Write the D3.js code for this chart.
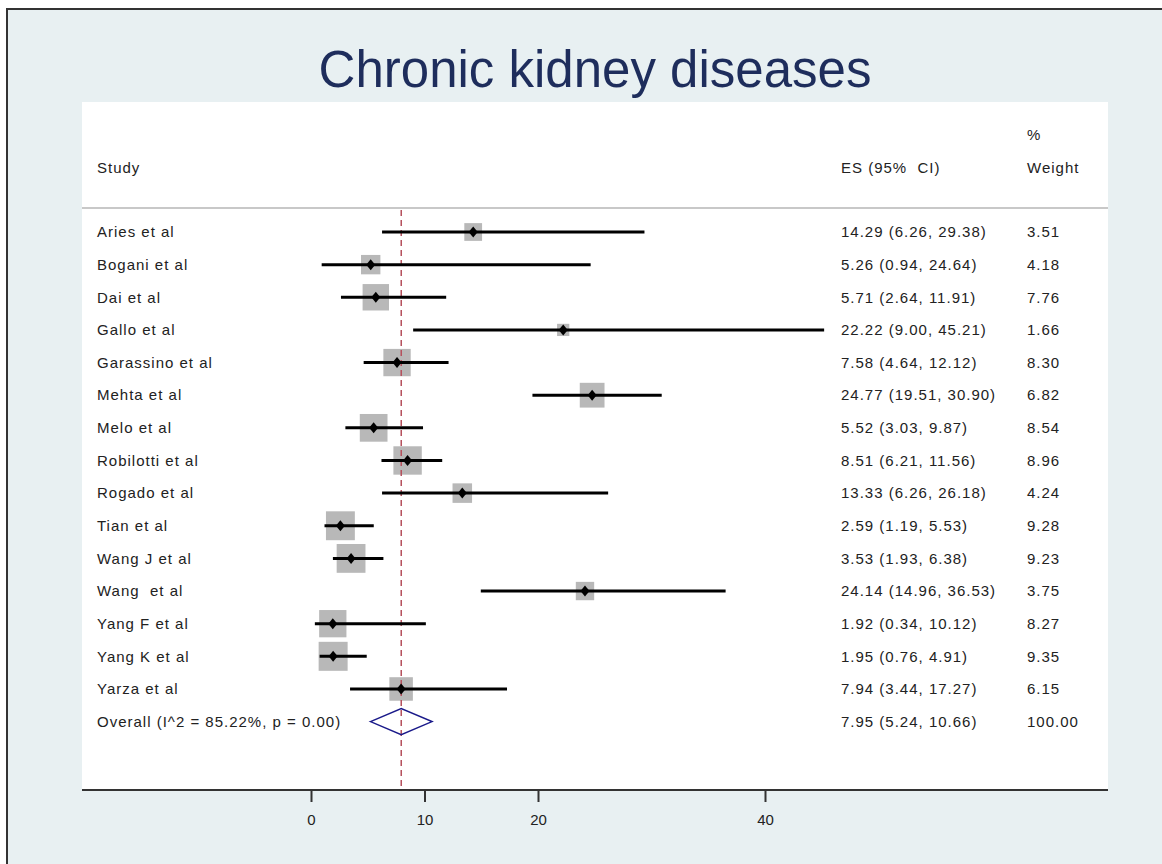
<!DOCTYPE html>
<html>
<head>
<meta charset="utf-8">
<script src="https://cdn.jsdelivr.net/npm/d3@7"></script>
<style>
  body { margin: 0; background: #fff; }
  text { font-family: "Liberation Sans", Arial, sans-serif; white-space: pre; }
</style>
</head>
<body>
<svg></svg>
<script>
// study data
var studies = ["Aries et al", "Bogani et al", "Dai et al", "Gallo et al", "Garassino et al",
  "Mehta et al", "Melo et al", "Robilotti et al", "Rogado et al", "Tian et al",
  "Wang J et al", "Wang  et al", "Yang F et al", "Yang K et al", "Yarza et al"];
var es = [14.29, 5.26, 5.71, 22.22, 7.58, 24.77, 5.52, 8.51, 13.33, 2.59, 3.53, 24.14, 1.92, 1.95, 7.94];
var lower = [6.26, 0.94, 2.64, 9.00, 4.64, 19.51, 3.03, 6.21, 6.26, 1.19, 1.93, 14.96, 0.34, 0.76, 3.44];
var upper = [29.38, 24.64, 11.91, 45.21, 12.12, 30.90, 9.87, 11.56, 26.18, 5.53, 6.38, 36.53, 10.12, 4.91, 17.27];
var weights = [3.51, 4.18, 7.76, 1.66, 8.30, 6.82, 8.54, 8.96, 4.24, 9.28, 9.23, 3.75, 8.27, 9.35, 6.15];

// pooled estimate
var overall = { label: "Overall (I^2 = 85.22%, p = 0.00)", es: 7.95, lower: 5.24, upper: 10.66, weight: 100.00 };

var xTicks = [0, 10, 20, 40];

var width = 1162, height = 864;
var plotLeft = 82, plotRight = 1108, plotTop = 102, axisY = 790;
var sepY = 208, firstRowY = 232, rowStep = 32.64;
var esColX = 841, wColX = 1027;

var svg = d3.select("svg")
    .attr("width", width)
    .attr("height", height);

// outer frame and background
svg.append("rect")
    .attr("x", 7).attr("y", 9)
    .attr("width", width + 20).attr("height", height + 20)
    .attr("fill", "#e8f0f2")
    .attr("stroke", "#333").attr("stroke-width", 2);

// white plot region
svg.append("rect")
    .attr("x", plotLeft).attr("y", plotTop)
    .attr("width", plotRight - plotLeft).attr("height", axisY - plotTop)
    .attr("fill", "#fff");

// title
svg.append("text")
    .attr("x", (plotLeft + plotRight) / 2).attr("y", 87)
    .attr("text-anchor", "middle")
    .attr("font-size", 51)
    .attr("fill", "#1e2d5c")
    .text("Chronic kidney diseases");

var x = d3.scaleLinear()
    .domain([0, 40])
    .range([311, 765]);

var y = d3.scaleLinear()
    .domain([0, 1])
    .range([firstRowY, firstRowY + rowStep]);

// square side grows with the square root of the weight
var size = d3.scaleSqrt()
    .domain([0, d3.max(weights)])
    .range([0, 29]);

var rows = studies.map(function(s, i) {
    return { label: s, es: es[i], lower: lower[i], upper: upper[i], weight: weights[i], i: i };
});

function txt(xp, yp, s) {
    return svg.append("text")
        .attr("x", xp).attr("y", yp)
        .attr("dy", "0.35em")
        .attr("font-size", 15)
        .attr("letter-spacing", 1)
        .attr("fill", "#222")
        .text(s);
}

// header
txt(97, 168, "Study");
txt(esColX, 168, "ES (95%  CI)");
txt(wColX, 135, "%");
txt(wColX, 168, "Weight");

// header separator
svg.append("line")
    .attr("x1", plotLeft).attr("x2", plotRight)
    .attr("y1", sepY).attr("y2", sepY)
    .attr("stroke", "#c8c8c8").attr("stroke-width", 2);

// weight squares
svg.selectAll("rect.box")
    .data(rows)
    .enter()
    .append("rect")
    .attr("class", "box")
    .attr("x", function(d) { return x(d.es) - size(d.weight) / 2; })
    .attr("y", function(d) { return y(d.i) - size(d.weight) / 2; })
    .attr("width", function(d) { return size(d.weight); })
    .attr("height", function(d) { return size(d.weight); })
    .attr("fill", "#b8b8b8");

// pooled estimate reference line
svg.append("line")
    .attr("x1", x(overall.es)).attr("x2", x(overall.es))
    .attr("y1", sepY + 2).attr("y2", axisY)
    .attr("stroke", "#b5505c")
    .attr("stroke-width", 1.5)
    .attr("stroke-dasharray", "6,4");

// confidence intervals
svg.selectAll("line.ci")
    .data(rows)
    .enter()
    .append("line")
    .attr("class", "ci")
    .attr("x1", function(d) { return x(d.lower); })
    .attr("x2", function(d) { return x(d.upper); })
    .attr("y1", function(d) { return y(d.i); })
    .attr("y2", function(d) { return y(d.i); })
    .attr("stroke", "#000")
    .attr("stroke-width", 3);

// point estimates
svg.selectAll("path.pt")
    .data(rows)
    .enter()
    .append("path")
    .attr("class", "pt")
    .attr("d", function(d) {
        var cx = x(d.es), cy = y(d.i);
        return "M" + (cx - 4.5) + "," + cy + "L" + cx + "," + (cy - 5.5) +
            "L" + (cx + 4.5) + "," + cy + "L" + cx + "," + (cy + 5.5) + "Z";
    })
    .attr("fill", "#000");

// overall diamond
var oy = y(rows.length);
svg.append("path")
    .attr("d", "M" + x(overall.lower) + "," + oy +
        "L" + x(overall.es) + "," + (oy - 13) +
        "L" + x(overall.upper) + "," + oy +
        "L" + x(overall.es) + "," + (oy + 13) + "Z")
    .attr("fill", "none")
    .attr("stroke", "#1a1a8a")
    .attr("stroke-width", 1.5);

// row text
var f2 = d3.format(".2f");
rows.forEach(function(d) {
    txt(97, y(d.i), d.label);
    txt(esColX, y(d.i), f2(d.es) + " (" + f2(d.lower) + ", " + f2(d.upper) + ")");
    txt(wColX, y(d.i), f2(d.weight));
});
txt(97, oy, overall.label);
txt(esColX, oy, f2(overall.es) + " (" + f2(overall.lower) + ", " + f2(overall.upper) + ")");
txt(wColX, oy, f2(overall.weight));

// x axis
svg.append("line")
    .attr("x1", plotLeft).attr("x2", plotRight)
    .attr("y1", axisY).attr("y2", axisY)
    .attr("stroke", "#333").attr("stroke-width", 2);

var axis = svg.append("g")
    .attr("transform", "translate(0," + axisY + ")")
    .call(d3.axisBottom(x).tickValues(xTicks).tickSize(12).tickPadding(12).tickFormat(d3.format("d")));
axis.select(".domain").remove();
axis.selectAll(".tick line").attr("stroke", "#333").attr("stroke-width", 2);
axis.selectAll(".tick text")
    .attr("font-size", 15)
    .attr("fill", "#222")
    .style("font-family", "'Liberation Sans', Arial, sans-serif");
</script>
</body>
</html>
